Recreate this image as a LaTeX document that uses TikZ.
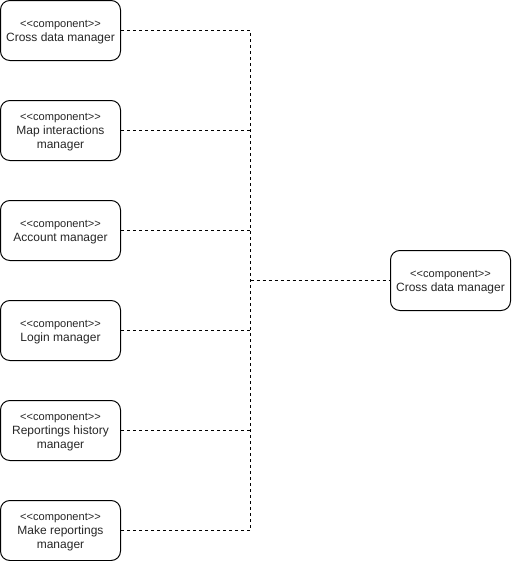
\documentclass[tikz,border=0pt]{standalone}
\usepackage{fontspec}
\setmainfont{Liberation Sans}
\begin{document}
\begin{tikzpicture}[x=0.75pt,y=-0.75pt,
  comp/.style={draw=black,line width=0.75pt,rounded corners=7pt,minimum width=90pt,minimum height=45pt,inner sep=0pt,
    label={[yshift=-1.5pt,align=center,inner sep=0pt,text=black!85,font=\fontsize{9}{10.5}\selectfont]center:#1}},
  link/.style={draw=black,line width=0.75pt,dash pattern=on 2.25pt off 2.25pt}]
\useasboundingbox (0,0) rectangle (511,561);
\newcommand{\st}{{\fontsize{8.3}{10.5}\selectfont <{}<component>{}>}}
\node[comp={\st\\Cross data manager}] (a) at (60.5,30.5) {};
\node[comp={\st\\Map interactions\\manager}] (b) at (60.5,130.5) {};
\node[comp={\st\\Account manager}] (c) at (60.5,230.5) {};
\node[comp={\st\\Login manager}] (d) at (60.5,330.5) {};
\node[comp={\st\\Reportings history\\manager}] (e) at (60.5,430.5) {};
\node[comp={\st\\Make reportings\\manager}] (f) at (60.5,530.5) {};
\node[comp={\st\\Cross data manager}] (r) at (450.5,280.5) {};
\coordinate (ja) at (250.5,30.5);
\coordinate (jf) at (250.5,530.5);
\coordinate (jm) at (250.5,280.5);
\draw[link] (a.east) -- (ja) -- (jf) -- (f.east);
\draw[link] (b.east) -- (b.east -| jm);
\draw[link] (c.east) -- (c.east -| jm);
\draw[link] (d.east) -- (d.east -| jm);
\draw[link] (e.east) -- (e.east -| jm);
\draw[link] (jm) -- (r.west);
\end{tikzpicture}
\end{document}
